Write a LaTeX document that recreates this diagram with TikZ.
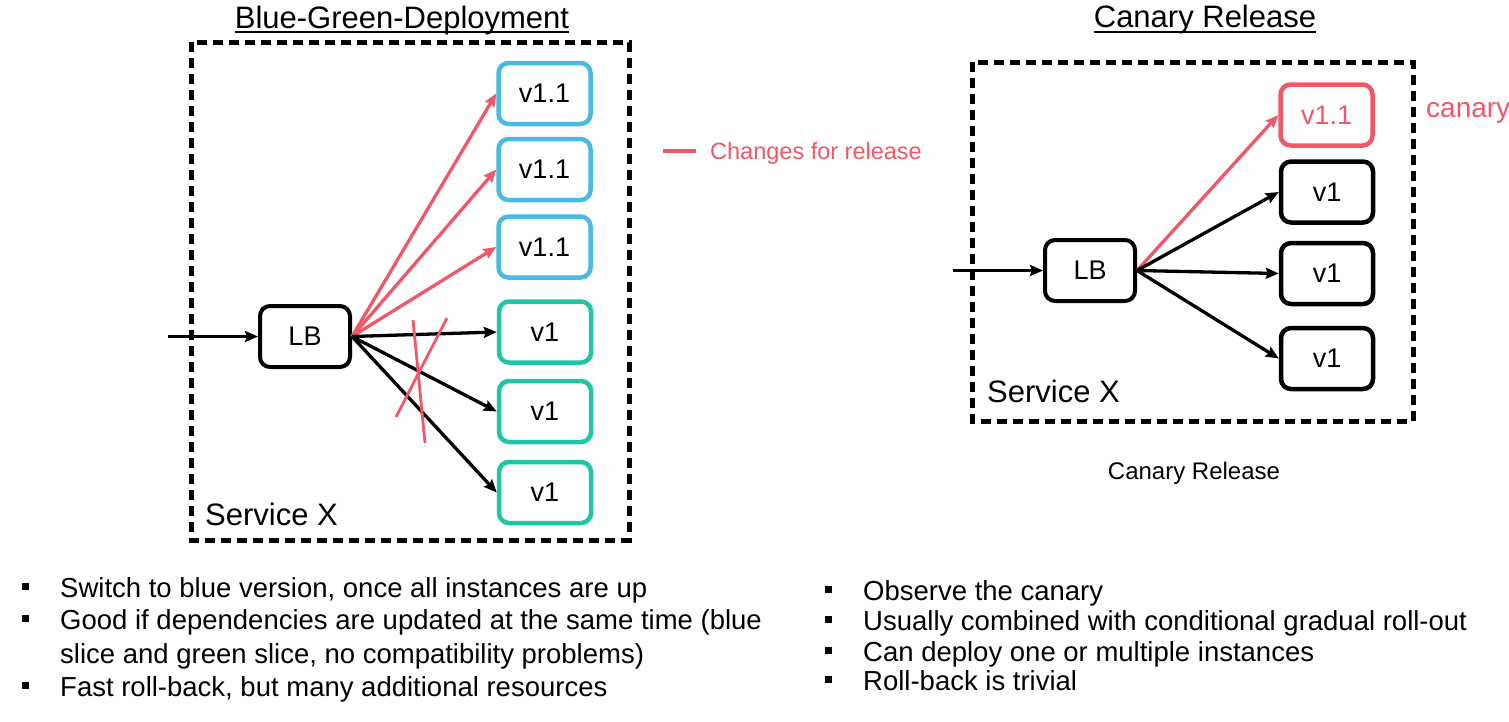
\documentclass[tikz,border=0pt]{standalone}
\usepackage{fontspec}
\setmainfont{Liberation Sans}
\usetikzlibrary{arrows.meta}

\definecolor{relred}{RGB}{240,88,104}
\definecolor{blueslice}{RGB}{72,186,228}
\definecolor{greenslice}{RGB}{30,198,164}

\tikzset{
  title/.style={anchor=base, inner sep=0pt, font=\fontsize{31}{36}\selectfont},
  inst/.style={draw, rounded corners=10pt, line width=4.5pt, minimum width=92pt,
    minimum height=61pt, inner sep=0pt, font=\fontsize{27}{32}\selectfont},
  lbnode/.style={draw, rounded corners=10pt, line width=4pt, minimum width=90pt,
    minimum height=61pt, inner sep=0pt, font=\fontsize{27}{32}\selectfont},
  service/.style={line width=5pt, dash pattern=on 10pt off 6pt},
  svclabel/.style={anchor=base west, inner sep=0pt, font=\fontsize{31}{36}\selectfont},
  flow/.style={->, line width=3.3pt},
  bullettext/.style={anchor=base west, inner sep=0pt, font=\fontsize{27.5}{33}\selectfont},
  bulletmark/.style={fill, minimum size=7pt, inner sep=0pt},
}

\begin{document}
\begin{tikzpicture}[x=1pt, y=-1pt, >={Stealth[length=13pt,width=11pt,inset=2pt]}]
  \useasboundingbox (0,0) rectangle (1509,721);

  % Blue-Green-Deployment
  \node[title] (bgtitle) at (402,28) {Blue-Green-Deployment};
  \draw[line width=1.5pt] ([yshift=-4pt]bgtitle.base west) -- ([yshift=-4pt]bgtitle.base east);

  \draw[service] (191,42) rectangle (629,540);
  \node[svclabel] (svcL) at (205,525) {Service X};

  % Load balancer
  \coordinate (inL) at (168,336.5);
  \node[lbnode] (lbL) at (305,336.5) {LB};
  \draw[flow] (inL) -- (lbL);

  % Blue slice
  \node[inst, draw=blueslice] (blue1) at (544.5,93.5) {v1.1};
  \node[inst, draw=blueslice] (blue2) at (544.5,169.5) {v1.1};
  \node[inst, draw=blueslice] (blue3) at (544.5,247) {v1.1};

  % Green slice
  \node[inst, draw=greenslice] (green1) at (545,332) {v1};
  \node[inst, draw=greenslice] (green2) at (545,411.5) {v1};
  \node[inst, draw=greenslice] (green3) at (545,492.5) {v1};

  \draw[flow, relred] (lbL.east) -- (blue1.west);
  \draw[flow, relred] (lbL.east) -- (blue2.west);
  \draw[flow, relred] (lbL.east) -- (blue3.west);
  \draw[flow] (lbL.east) -- (green1.west);
  \draw[flow] (lbL.east) -- (green2.west);
  \draw[flow] (lbL.east) -- (green3.west);

  % Durchgestrichen
  \draw[relred, line width=2.8pt] (413,320) -- (425,443);
  \draw[relred, line width=2.8pt] (447,318) -- (396,417);

  % Legende
  \coordinate (legA) at (663,151);
  \coordinate (legB) at (696,151);
  \draw[relred, line width=3.3pt] (legA) -- (legB);
  \node[anchor=base west, inner sep=0pt, text=relred, font=\fontsize{23.5}{28}\selectfont]
    (legend) at (710,159) {Changes for release};

  % Canary Release
  \node[title] (crtitle) at (1205,27) {Canary Release};
  \draw[line width=1.5pt] ([yshift=-5pt]crtitle.base west) -- ([yshift=-5pt]crtitle.base east);

  \draw[service] (972,62) rectangle (1413,421);
  \node[svclabel] (svcR) at (987,402) {Service X};

  \coordinate (inR) at (953,270.5);
  \node[lbnode] (lbR) at (1090,270.5) {LB};
  \draw[flow] (inR) -- (lbR);

  \node[inst, draw=relred, text=relred] (canary) at (1326.5,115) {v1.1};
  \node[inst] (old1) at (1327,192) {v1};
  \node[inst] (old2) at (1327,273.5) {v1};
  \node[inst] (old3) at (1327,358.5) {v1};

  \draw[flow, relred] (lbR.east) -- (canary.west);
  \draw[flow] (lbR.east) -- (old1.west);
  \draw[flow] (lbR.east) -- (old2.west);
  \draw[flow] (lbR.east) -- (old3.west);

  \node[anchor=base west, inner sep=0pt, text=relred, font=\fontsize{28}{32}\selectfont]
    (canarylbl) at (1426,117) {canary};
  \node[anchor=base, inner sep=0pt, font=\fontsize{24}{28}\selectfont]
    (caption) at (1194,479) {Canary Release};

  % Stichpunkte links
  \node[bulletmark] (bl1) at (25.5,586.5) {};
  \node[bulletmark] (bl2) at (25.5,618.5) {};
  \node[bulletmark] (bl3) at (25.5,685.5) {};
  \node[bullettext] (tl1) at (60,597) {Switch to blue version, once all instances are up};
  \node[bullettext] (tl2) at (60,629) {Good if dependencies are updated at the same time (blue};
  \node[bullettext] (tl2b) at (60,663) {slice and green slice, no compatibility problems)};
  \node[bullettext] (tl3) at (60,696) {Fast roll-back, but many additional resources};

  % Stichpunkte rechts
  \node[bulletmark] (br1) at (828,589) {};
  \node[bulletmark] (br2) at (828,619) {};
  \node[bulletmark] (br3) at (828,650) {};
  \node[bulletmark] (br4) at (828,679) {};
  \node[bullettext] (tr1) at (863,600) {Observe the canary};
  \node[bullettext] (tr2) at (863,630) {Usually combined with conditional gradual roll-out};
  \node[bullettext] (tr3) at (863,661) {Can deploy one or multiple instances};
  \node[bullettext] (tr4) at (863,690) {Roll-back is trivial};

\end{tikzpicture}
\end{document}
